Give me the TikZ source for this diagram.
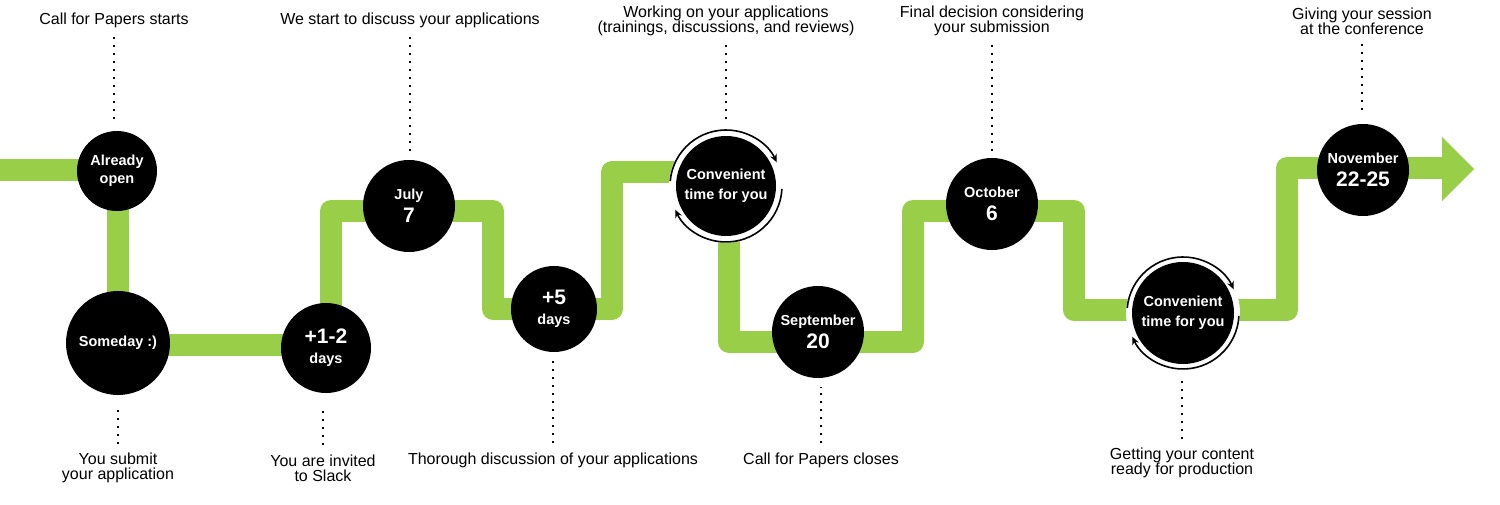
\documentclass[tikz,border=0pt]{standalone}
\usepackage{fontspec}
\setmainfont{Liberation Sans}
\usetikzlibrary{arrows.meta,backgrounds}
\definecolor{trackgreen}{RGB}{152,206,72}
\newcommand{\daynum}[1]{{\fontsize{21}{21}\selectfont #1}}

\begin{document}
\begin{tikzpicture}[x=1pt,y=1pt]
\tikzset{
  milestone/.style={circle,fill=black,text=white,inner sep=0pt,align=center,font=\fontsize{14.5}{18}\selectfont\bfseries},
  caption/.style={inner sep=0pt,align=center,font=\fontsize{16}{15}\selectfont},
  leader/.style={line width=2pt,dash pattern=on 2pt off 6pt,shorten <=9pt,shorten >=9pt},
  track/.style={draw=trackgreen,line width=22pt,line join=round},
  turnarrow/.style={-{Stealth[length=8pt,width=7pt]},line width=1.6pt}
}
\useasboundingbox (0,0) rectangle (1500,504);
% milestones on the track
\node[milestone,minimum size=80pt] (n_open) at (117,333) {Already\\open};
\node[milestone,minimum size=104pt] (n_someday) at (118,161) {Someday :)};
\node[milestone,minimum size=90pt] (n_days12) at (326,156) {\daynum{+1-2}\\[2pt]days};
\node[milestone,minimum size=92pt] (n_july) at (409,298) {July\\[5pt]\daynum{7}};
\node[milestone,minimum size=86pt] (n_plus5) at (554,195) {\daynum{+5}\\[2pt]days};
\node[milestone,minimum size=100pt] (n_conv1) at (726,318) {Convenient\\[2pt]time for you};
\node[milestone,minimum size=92pt] (n_sept) at (818,172) {September\\[5pt]\daynum{20}};
\node[milestone,minimum size=92pt] (n_oct) at (992,300) {October\\[5pt]\daynum{6}};
\node[milestone,minimum size=102pt] (n_conv2) at (1183,191) {Convenient\\[2pt]time for you};
\node[milestone,minimum size=92pt] (n_nov) at (1363,334) {November\\[5pt]\daynum{22-25}};
% captions above
\node[caption] (c_open) at (114,484) {Call for Papers starts};
\node[caption] (c_july) at (410,484) {We start to discuss your applications};
\node[caption] (c_conv1) at (726,483) {Working on your applications\\(trainings, discussions, and reviews)};
\node[caption] (c_oct) at (992,483) {Final decision considering\\your submission};
\node[caption] (c_nov) at (1362,483) {Giving your session\\at the conference};
% captions below
\node[caption] (c_someday) at (118,36) {You submit\\your application};
\node[caption] (c_days12) at (323,36) {You are invited\\to Slack};
\node[caption] (c_plus5) at (553,44) {Thorough discussion of your applications};
\node[caption] (c_sept) at (821,44) {Call for Papers closes};
\node[caption] (c_conv2) at (1182,41) {Getting your content\\ready for production};
% dotted leaders
\draw[leader] (c_open.south) -- (c_open.south |- n_open.north);
\draw[leader] (c_july.south) -- (c_july.south |- n_july.north);
\draw[leader,shorten >=16pt] (c_conv1.south) -- (c_conv1.south |- n_conv1.north);
\draw[leader,shorten >=3pt] (c_oct.south) -- (c_oct.south |- n_oct.north);
\draw[leader] (c_nov.south) -- (c_nov.south |- n_nov.north);
\draw[leader] (c_someday.north) -- (c_someday.north |- n_someday.south);
\draw[leader,shorten >=13pt] (c_days12.north) -- (c_days12.north |- n_days12.south);
\draw[leader] (c_plus5.north) -- (c_plus5.north |- n_plus5.south);
\draw[leader] (c_sept.north) -- (c_sept.north |- n_sept.south);
\draw[leader,shorten >=14pt] (c_conv2.north) -- (c_conv2.north |- n_conv2.south);
% turning arrows round the two flexible dates
\draw[turnarrow] ([shift={(175:56pt)}]n_conv1.center) arc[start angle=175,end angle=25,radius=56pt];
\draw[turnarrow] ([shift={(-3:56pt)}]n_conv1.center) arc[start angle=-3,end angle=-155,radius=56pt];
\draw[turnarrow] ([shift={(175:56pt)}]n_conv2.center) arc[start angle=175,end angle=25,radius=56pt];
\draw[turnarrow] ([shift={(-3:56pt)}]n_conv2.center) arc[start angle=-3,end angle=-155,radius=56pt];
% green track behind everything
\begin{scope}[on background layer]
\draw[track] (0,334) -- (118,334) -- (118,159) -- (331,159) -- (331,293) -- (493,293)
  -- (493,195) -- (612,195) -- (612,332) -- (729,332) -- (729,162) -- (913,162)
  -- (913,293) -- (1074,293) -- (1074,194) -- (1287,194) -- (1287,336) -- (1444,336);
\fill[trackgreen] (1442,367) -- (1474,335) -- (1442,303) -- cycle;
\fill[white] (n_conv1) circle[radius=57pt];
\fill[white] (n_conv2) circle[radius=57pt];
\end{scope}
\end{tikzpicture}
\end{document}
